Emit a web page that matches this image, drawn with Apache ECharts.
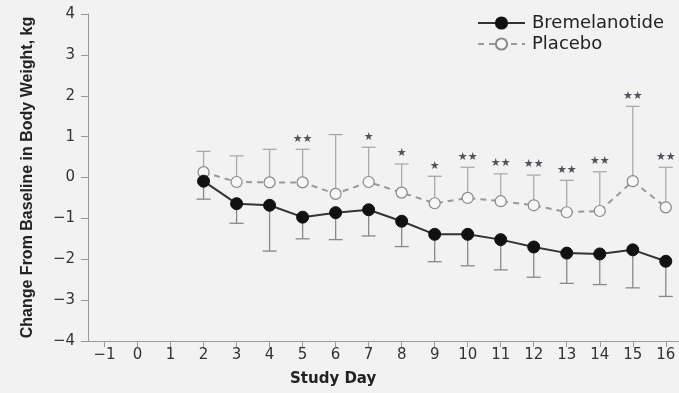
<!DOCTYPE html>
<html>
<head>
<meta charset="utf-8">
<script src="https://cdn.jsdelivr.net/npm/echarts@6/dist/echarts.min.js"></script>
<style>
html,body{margin:0;padding:0;background:#f2f2f2;}
#chart{width:679px;height:393px;}
</style>
</head>
<body>
<div id="chart"></div>
<script>
// 数据
var days = [2, 3, 4, 5, 6, 7, 8, 9, 10, 11, 12, 13, 14, 15, 16];
var dayTicks = [-1, 0, 1, 2, 3, 4, 5, 6, 7, 8, 9, 10, 11, 12, 13, 14, 15, 16];
var bremMean = [-0.09, -0.64, -0.68, -0.97, -0.86, -0.79, -1.07, -1.39, -1.39, -1.52, -1.70, -1.85, -1.87, -1.77, -2.05];
var bremLower = [-0.53, -1.12, -1.80, -1.50, -1.52, -1.43, -1.69, -2.06, -2.16, -2.26, -2.44, -2.59, -2.62, -2.70, -2.91];
var placeboMean = [0.13, -0.11, -0.12, -0.12, -0.40, -0.11, -0.37, -0.63, -0.50, -0.58, -0.68, -0.85, -0.82, -0.09, -0.73];
var placeboUpper = [0.64, 0.53, 0.69, 0.69, 1.05, 0.74, 0.33, 0.03, 0.25, 0.09, 0.06, -0.07, 0.14, 1.74, 0.25];
var signif = ['', '', '', '★★', '', '★', '★', '★', '★★', '★★', '★★', '★★', '★★', '★★', '★★'];

(function() {
	var myChart = echarts.init(document.getElementById('chart'));
	var font = 'DejaVu Sans, sans-serif';

	//误差线
	function errBar(color) {
		return function(params, api) {
			var x = api.value(0);
			var p0 = api.coord([x, api.value(1)]);
			var p1 = api.coord([x, api.value(2)]);
			var w = 7;
			var st = { stroke: color, lineWidth: 1.3 };
			return {
				type: 'group',
				children: [
					{ type: 'line', shape: { x1: p0[0], y1: p0[1], x2: p1[0], y2: p1[1] }, style: st },
					{ type: 'line', shape: { x1: p1[0] - w, y1: p1[1], x2: p1[0] + w, y2: p1[1] }, style: st }
				]
			};
		};
	}
	function minusFmt(v) { return v < 0 ? '\u2212' + Math.abs(v) : String(v); }

	var bremData = days.map(function(d, i) { return [d, bremMean[i]]; });
	var placeboData = days.map(function(d, i) { return [d, placeboMean[i]]; });
	var bremErr = days.map(function(d, i) { return [d, bremMean[i], bremLower[i]]; });
	var placeboErr = days.map(function(d, i) { return [d, placeboMean[i], placeboUpper[i]]; });
	var starData = days.map(function(d, i) { return { value: [d, placeboUpper[i]], label: { formatter: signif[i] } }; });

	var option = {
		backgroundColor: '#f2f2f2',
		animation: false,
		textStyle: { fontFamily: font },
		title: {
			text: 'Study Day',
			left: 290,
			top: 372,
			padding: 0,
			textStyle: { fontSize: 15, fontWeight: 'bold', color: '#222', fontFamily: font }
		},
		legend: {
			orient: 'vertical',
			left: 477,
			top: 14,
			padding: 0,
			itemWidth: 47,
			itemHeight: 14,
			itemGap: 3,
			textStyle: { fontSize: 18, color: '#222', fontFamily: font, padding: [0, 0, 0, 2] },
			data: ['Bremelanotide', 'Placebo']
		},
		grid: { left: 88, right: 0, top: 14, bottom: 52, containLabel: false, outerBoundsMode: 'none' },
		xAxis: {
			type: 'value',
			min: -1.5,
			max: 16.4,
			splitLine: { show: false },
			axisLine: { onZero: false, lineStyle: { color: '#999', width: 1 } },
			axisTick: { customValues: dayTicks, length: 6, lineStyle: { color: '#999' } },
			axisLabel: { customValues: dayTicks, fontSize: 15, color: '#333', margin: 7, formatter: minusFmt }
		},
		yAxis: {
			type: 'value',
			min: -4,
			max: 4,
			interval: 1,
			name: 'Change From Baseline in Body Weight, kg',
			nameLocation: 'middle',
			nameGap: 52,
			nameTextStyle: { fontSize: 16, fontWeight: 'bold', color: '#222', fontFamily: 'Liberation Sans' },
			splitLine: { show: false },
			axisLine: { show: true, onZero: false, lineStyle: { color: '#999', width: 1 } },
			axisTick: { show: true, length: 7, lineStyle: { color: '#999' } },
			axisLabel: { fontSize: 15, color: '#333', margin: 13, formatter: minusFmt }
		},
		series: [
			{
				name: 'placeboErr',
				type: 'custom',
				renderItem: errBar('#aaa'),
				data: placeboErr,
				z: 1
			},
			{
				name: 'bremErr',
				type: 'custom',
				renderItem: errBar('#888'),
				data: bremErr,
				z: 1
			},
			{
				name: 'Placebo',
				type: 'line',
				data: placeboData,
				symbol: 'circle',
				symbolSize: 11,
				z: 3,
				lineStyle: { color: '#999', width: 2, type: [6, 5] },
				itemStyle: { color: '#f7f7f7', borderColor: '#888', borderWidth: 1.2 }
			},
			{
				name: 'Bremelanotide',
				type: 'line',
				data: bremData,
				symbol: 'circle',
				symbolSize: 12,
				z: 4,
				lineStyle: { color: '#333', width: 2 },
				itemStyle: { color: '#111', borderColor: '#111', borderWidth: 1 }
			},
			{
				name: 'stars',
				type: 'scatter',
				symbolSize: 0,
				data: starData,
				z: 5,
				label: { show: true, position: 'top', distance: 5, fontSize: 11, color: '#2a2a35', fontFamily: font }
			}
		]
	};
	myChart.setOption(option);
	window.addEventListener('resize', function() {
		myChart.resize();
	});
})();
</script>
</body>
</html>
